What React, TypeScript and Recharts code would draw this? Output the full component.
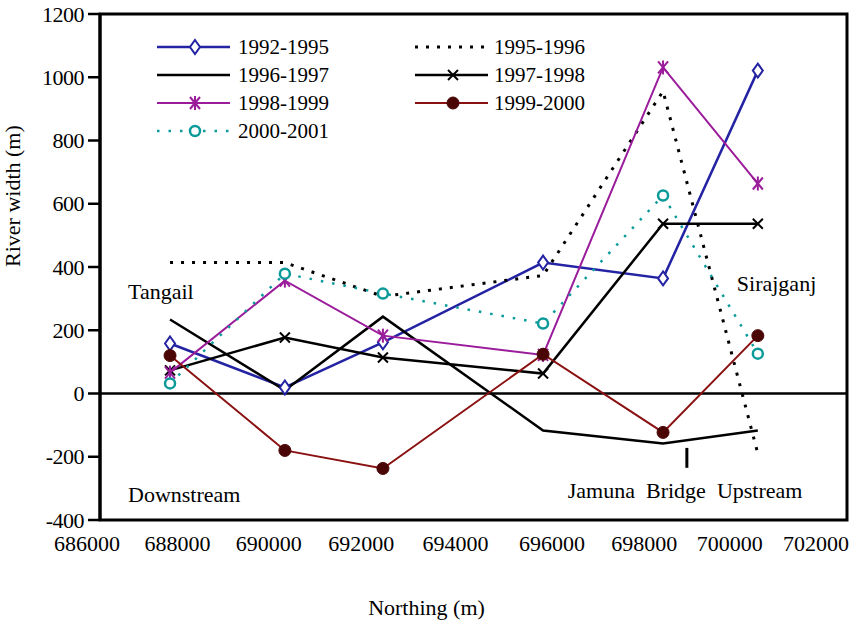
import React from 'react';
import {
  LineChart,
  Line,
  XAxis,
  YAxis,
  ReferenceLine,
  ReferenceArea,
  ReferenceDot,
  Legend,
} from 'recharts';

// ---------- data ----------
const northing = [687500, 689960, 692060, 695490, 698060, 700090];
const s1992_1995 = [158, 19, 162, 414, 364, 1021];
const s1995_1996 = [414, 414, 307, 373, 956, -190];
const s1996_1997 = [234, 10, 243, -117, -158, -117];
const s1997_1998 = [73, 177, 114, 63, 537, 537];
const s1998_1999 = [66, 357, 183, 122, 1031, 664];
const s1999_2000 = [120, -180, -237, 124, -123, 183];
const s2000_2001 = [32, 379, 316, 221, 626, 126];

const seriesNames = ['1992-1995', '1995-1996', '1996-1997', '1997-1998', '1998-1999', '1999-2000', '2000-2001'];
const seriesValues = [s1992_1995, s1995_1996, s1996_1997, s1997_1998, s1998_1999, s1999_2000, s2000_2001];

const xTicks = [686000, 688000, 690000, 692000, 694000, 696000, 698000, 700000, 702000];
const yTicks = [-400, -200, 0, 200, 400, 600, 800, 1000, 1200];

const annotations = [
  { x: 686600, y: 322, text: 'Tangail' },
  { x: 686600, y: -318, text: 'Downstream' },
  { x: 699640, y: 348, text: 'Sirajganj' },
  { x: 696020, y: -307, text: 'Jamuna\u00a0\u00a0Bridge\u00a0\u00a0Upstream' },
];
const bridgeX = 698570;

// ---------- styles ----------
const FONT = 'Liberation Serif, DejaVu Serif, serif';
const BLUE = '#2323a3';
const PURPLE = '#9b1c9b';
const RED = '#8a1111';
const DARKRED = '#4a0505';
const TEAL = '#0a9a9a';

type Style = { color: string; width: number; dash?: string; marker: string };
const styles: Style[] = [
  { color: BLUE, width: 2.5, marker: 'diamond' },
  { color: '#000', width: 3, dash: '3 8', marker: 'none' },
  { color: '#000', width: 2.5, marker: 'none' },
  { color: '#000', width: 2.5, marker: 'cross' },
  { color: PURPLE, width: 2, marker: 'star' },
  { color: RED, width: 2, marker: 'disc' },
  { color: TEAL, width: 2.5, dash: '2.5 9', marker: 'ring' },
];

const data = northing.map((x, i) => {
  const row: Record<string, number> = { x };
  seriesValues.forEach((vals, k) => {
    row['s' + k] = vals[i];
  });
  return row;
});

function marker(kind: string, cx: number, cy: number, color: string, key?: string) {
  if (kind === 'diamond') {
    return (
      <path key={key} d={`M${cx},${cy - 7} L${cx + 5},${cy} L${cx},${cy + 7} L${cx - 5},${cy} Z`} fill="#fff" stroke={color} strokeWidth={2} />
    );
  }
  if (kind === 'cross') {
    return (
      <g key={key} stroke={color} strokeWidth={2}>
        <line x1={cx - 5} y1={cy - 5} x2={cx + 5} y2={cy + 5} />
        <line x1={cx - 5} y1={cy + 5} x2={cx + 5} y2={cy - 5} />
      </g>
    );
  }
  if (kind === 'star') {
    return (
      <g key={key} stroke={color} strokeWidth={2}>
        <line x1={cx - 5} y1={cy - 6} x2={cx + 5} y2={cy + 6} />
        <line x1={cx - 5} y1={cy + 6} x2={cx + 5} y2={cy - 6} />
        <line x1={cx} y1={cy - 7} x2={cx} y2={cy + 7} />
      </g>
    );
  }
  if (kind === 'disc') {
    return <circle key={key} cx={cx} cy={cy} r={6} fill={DARKRED} stroke={DARKRED} />;
  }
  if (kind === 'ring') {
    return <circle key={key} cx={cx} cy={cy} r={5} fill="#fff" stroke={color} strokeWidth={2.5} />;
  }
  return <g key={key} />;
}

const xLabelShift = [-13, -16, -18, -19, -18, -15, -16, -24, -31];

const XTick = (props: any) => {
  const { x, y, payload, index } = props;
  return (
    <text x={x + (xLabelShift[index] ?? 0)} y={y + 15} textAnchor="middle" dominantBaseline="central" fontFamily={FONT} fontSize={22} fill="#000">
      {payload.value}
    </text>
  );
};

const YTick = (props: any) => {
  const { x, y, payload } = props;
  return (
    <text x={x - 2} y={y} textAnchor="end" dominantBaseline="central" fontFamily={FONT} fontSize={22} fill="#000" letterSpacing={-0.5}>
      {payload.value}
    </text>
  );
};

const legendCols = [
  { sx: 157, tx: 238 },
  { sx: 415, tx: 494 },
];
const legendRows = [47, 75, 103, 131];

const LegendContent = () => (
  <svg width={863} height={150} style={{ display: 'block' }}>
    {seriesNames.map((name, i) => {
      const col = legendCols[i % 2];
      const y = legendRows[Math.floor(i / 2)];
      const st = styles[i];
      return (
        <g key={name}>
          <line x1={col.sx} y1={y} x2={col.sx + 73} y2={y} stroke={st.color} strokeWidth={st.width} strokeDasharray={st.dash} />
          {marker(st.marker, col.sx + 38, y, st.color)}
          <text x={col.tx} y={y} dominantBaseline="central" fontFamily={FONT} fontSize={21} fill="#000">
            {name}
          </text>
        </g>
      );
    })}
  </svg>
);

const AnnotationText = (text: string) => (props: any) => (
  <text x={props.cx} y={props.cy} dominantBaseline="central" fontFamily={FONT} fontSize={22} fill="#000">
    {text}
  </text>
);

export default function App() {
  return (
    <div style={{ position: 'absolute', left: 0, top: 0, width: 863, height: 627, background: '#fff', fontFamily: FONT }}>
      <LineChart width={863} height={627} data={data} margin={{ top: 14, right: 16, left: 0, bottom: 0 }}>
        <XAxis
          dataKey="x"
          type="number"
          domain={[686000, 702000]}
          ticks={xTicks}
          axisLine={false}
          tickLine={false}
          tick={<XTick />}
          height={107}
          interval={0}
          label={{ value: 'Northing  (m)', position: 'insideBottom', offset: 12, fontFamily: FONT, fontSize: 22, fill: '#000', dx: -47 }}
        />
        <YAxis
          type="number"
          domain={[-400, 1200]}
          ticks={yTicks}
          width={100}
          axisLine={{ stroke: '#000', strokeWidth: 3 }}
          tickLine={{ stroke: '#000', strokeWidth: 2.5 }}
          tickSize={12}
          tickMargin={2}
          tick={<YTick />}
          interval={0}
          label={{ value: 'River  width (m)', angle: -90, position: 'insideLeft', offset: 12, fontFamily: FONT, fontSize: 22, fill: '#000', dy: 0 }}
        />
        <ReferenceArea x1={686000} x2={702000} y1={-400} y2={1200} fill="none" stroke="#000" strokeWidth={3} fillOpacity={0} />
        <ReferenceLine y={0} stroke="#000" strokeWidth={2.5} />
        <ReferenceLine segment={[{ x: bridgeX, y: -172 }, { x: bridgeX, y: -235 }]} stroke="#000" strokeWidth={3} />
        {annotations.map((a) => (
          <ReferenceDot key={a.text} x={a.x} y={a.y} r={1} shape={AnnotationText(a.text)} />
        ))}
        {seriesNames.map((name, i) => {
          const st = styles[i];
          return (
            <Line
              key={name}
              name={name}
              dataKey={'s' + i}
              type="linear"
              stroke={st.color}
              strokeWidth={st.width}
              strokeDasharray={st.dash}
              isAnimationActive={false}
              dot={st.marker === 'none' ? false : (p: any) => marker(st.marker, p.cx, p.cy, st.color, name + p.index)}
              activeDot={false}
            />
          );
        })}
        <Legend
          layout="horizontal"
          verticalAlign="middle"
          content={<LegendContent />}
          wrapperStyle={{ position: 'absolute', left: 0, top: 0, width: 863, height: 150 }}
        />
      </LineChart>
    </div>
  );
}
